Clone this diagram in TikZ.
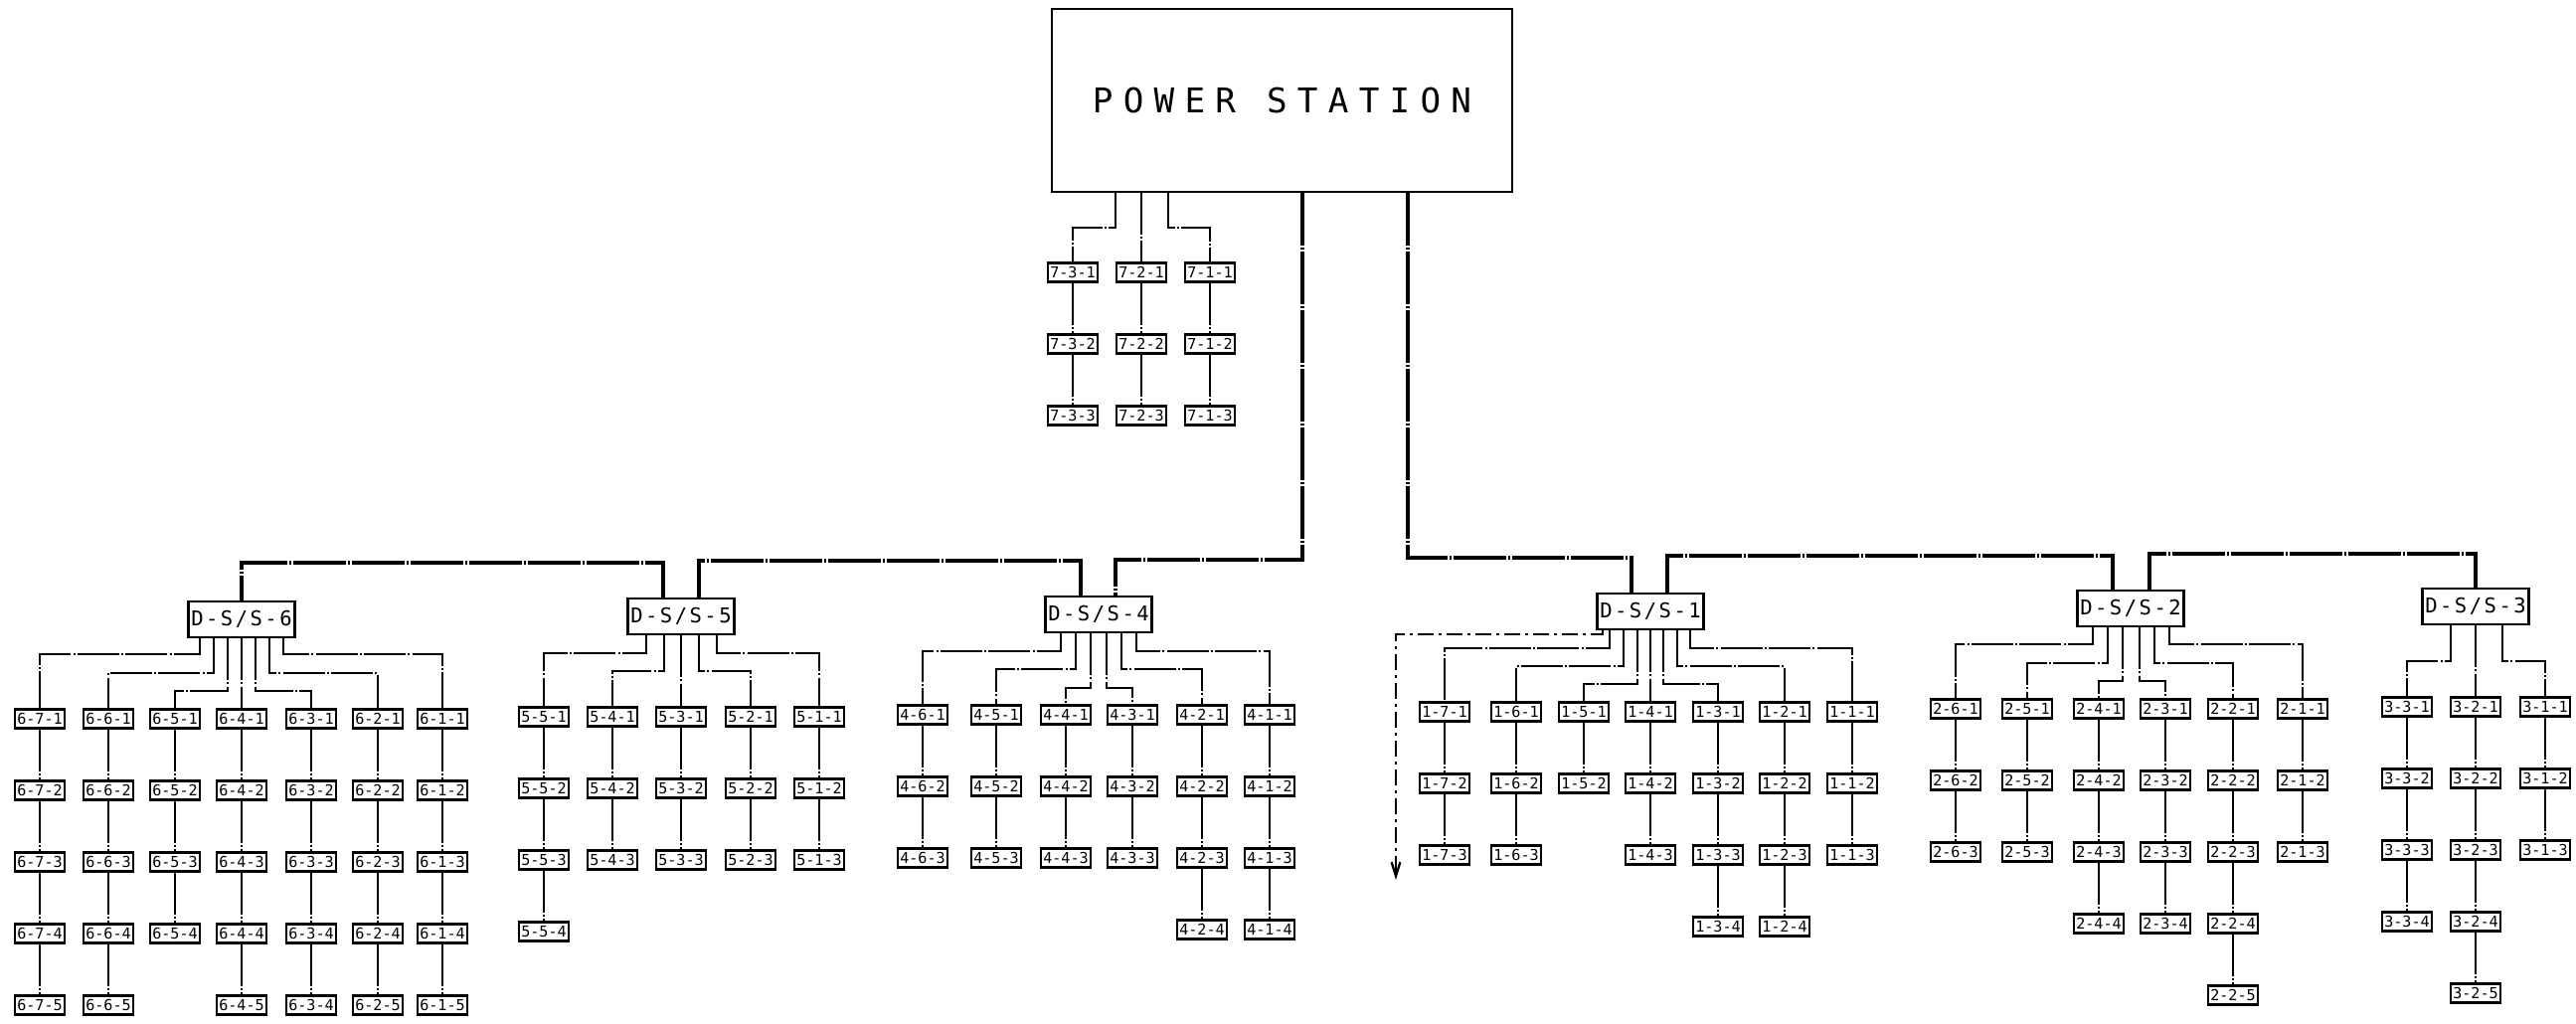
\documentclass[tikz,border=0pt]{standalone}
\usepackage{fontspec}
\newfontfamily\titlefont{DejaVu Sans Mono}[LetterSpace=30]
\newfontfamily\dssfont{DejaVu Sans Mono}[LetterSpace=12]
\newfontfamily\leaffont{DejaVu Sans Mono}
\usepackage{tikz}
\usetikzlibrary{arrows.meta}

\begin{document}
\begin{tikzpicture}[
    x=0.02cm, y=-0.02cm,
    station/.style={draw,line width=1pt,minimum width=9.26cm,minimum height=3.68cm,
      font=\titlefont\fontsize{19.5}{20}\selectfont},
    dss/.style={draw,line width=1.2pt,inner sep=0pt,
      minimum width=2.14cm,minimum height=0.72cm,
    font=\dssfont\fontsize{11.7}{12}\selectfont},
    leaf/.style={draw,line width=1.3pt,inner sep=0pt,
      minimum width=1.0cm,minimum height=0.38cm,
    font=\leaffont\fontsize{8.6}{9}\selectfont},
    feed/.style={line width=2pt,dash pattern=on 30pt off 1.2pt on 1.2pt off 1.2pt},
    link/.style={line width=1.6pt,dash pattern=on 24pt off 1.2pt on 1.2pt off 1.2pt},
    spur/.style={-{Straight Barb[length=8pt,width=5pt]},line width=1.3pt,
    dash pattern=on 9pt off 3pt on 1.5pt off 3pt}
    ]
    \useasboundingbox[fill=white] (0,0) rectangle (2591,1030);

    \node[station] (ps)   at (1289.5,101) {POWER STATION};
    \node[dss]     (dss6) at (243,623)  {D-S/S-6};
    \node[dss]     (dss5) at (685,620)  {D-S/S-5};
    \node[dss]     (dss4) at (1105,618) {D-S/S-4};
    \node[dss]     (dss1) at (1660,615) {D-S/S-1};
    \node[dss]     (dss2) at (2143,612) {D-S/S-2};
    \node[dss]     (dss3) at (2490,610) {D-S/S-3};

    % feeders
    \draw[feed] (ps.south -| 1310,0) -- (1310,563) -| (dss4.north -| 1122,0);
    \draw[feed] (dss4.north -| 1087,0) -- (1087,564) -| (dss5.north -| 703,0);
    \draw[feed] (dss5.north -| 667,0) -- (667,566) -| (dss6.north);
    \draw[feed] (ps.south -| 1416,0) -- (1416,561) -| (dss1.north -| 1641,0);
    \draw[feed] (dss1.north -| 1677,0) -- (1677,559) -| (dss2.north -| 2125,0);
    \draw[feed] (dss2.north -| 2162,0) -- (2162,557) -| (dss3.north);

    % outgoing branch
    \coordinate (spurend) at (1404,885);
    \draw[spur] (dss1.south -| 1612,0) -- (1612,638) -| (spurend);

    % lines: parent/ss/line/x/boxes/stub x/turn y/first row y
    \foreach \up/\g/\c/\cx/\n/\sx/\ty/\yo in {
      ps/7/3/1079/3/1122/229/274, ps/7/2/1148/3/1148/229/274, ps/7/1/1217/3/1175/229/274,
      dss6/6/7/40/5/201/658/723, dss6/6/6/109/5/215/677/723, dss6/6/5/176/4/229/695/723,
      dss6/6/4/243/5/243/695/723, dss6/6/3/313/4/257/695/723, dss6/6/2/380/5/271/677/723,
      dss6/6/1/445/5/285/658/723,
      dss5/5/5/547/4/650/657/721, dss5/5/4/616/3/668/675/721, dss5/5/3/685/3/685/675/721,
      dss5/5/2/755/3/703/675/721, dss5/5/1/824/3/721/657/721,
      dss4/4/6/928/3/1067/655/719, dss4/4/5/1002/3/1082/673/719, dss4/4/4/1072/3/1097/692/719,
      dss4/4/3/1139/3/1113/692/719, dss4/4/2/1209/4/1128/673/719, dss4/4/1/1277/4/1143/655/719,
      dss1/1/7/1453/3/1619/652/716, dss1/1/6/1525/3/1633/670/716, dss1/1/5/1593/2/1647/688/716,
      dss1/1/4/1660/3/1660/688/716, dss1/1/3/1728/4/1673/688/716, dss1/1/2/1795/4/1687/670/716,
      dss1/1/1/1863/3/1700/652/716,
      dss2/2/6/1967/3/2105/648/713, dss2/2/5/2039/3/2120/667/713, dss2/2/4/2111/4/2135/685/713,
      dss2/2/3/2178/4/2152/685/713, dss2/2/2/2246/5/2167/667/713, dss2/2/1/2316/3/2182/648/713,
      dss3/3/3/2421/4/2465/665/711, dss3/3/2/2490/5/2490/665/711, dss3/3/1/2560/3/2517/665/711}{
      \node[leaf] (n\g-\c-1) at (\cx,\yo) {\g-\c-1};
      \draw[link] (\up.south -| \sx,0) -- (\sx,\ty) -| (n\g-\c-1.north);
      \foreach \r [remember=\r as \p (initially 1)] in {2,...,\n}{
        \node[leaf] (n\g-\c-\r) at (\cx,{\yo+72*(\r-1)}) {\g-\c-\r};
        \draw[link] (n\g-\c-\p.south) -- (n\g-\c-\r.north);
      }
    }

    % last box of line 6-3
    \node[leaf] (n6-3-5) at (313,1011) {6-3-4};
    \draw[link] (n6-3-4.south) -- (n6-3-5.north);
  \end{tikzpicture}
\end{document}
